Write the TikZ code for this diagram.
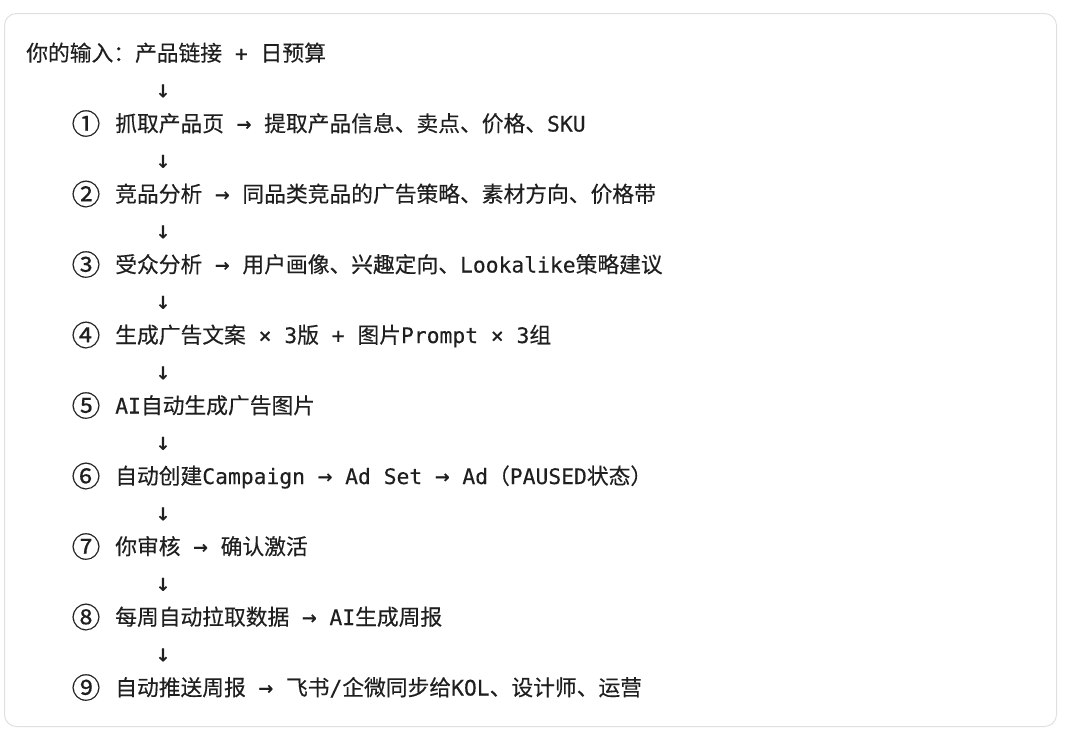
\documentclass[tikz,border=0pt]{standalone}
\usepackage{fontspec}
\newfontfamily\monofont[FakeBold=0.3]{DejaVu Sans Mono}
\newfontfamily\arrfont[FakeBold=0.7]{DejaVu Sans Mono}
\newfontfamily\cjkfont[Scale=1.02,FakeBold=0.3]{Noto Sans CJK SC}
% Chinese characters switch to the CJK family, arrows to a heavier mono
\newXeTeXintercharclass\cjkclass
\newXeTeXintercharclass\arrclass
\newcommand\charrange[3]{%
  \count255=#1
  \loop\XeTeXcharclass\count255=#3
  \ifnum\count255<#2 \advance\count255 by 1 \repeat}
\charrange{"2460}{"24FF}\cjkclass
\charrange{"3000}{"303F}\cjkclass
\charrange{"4E00}{"9FFF}\cjkclass
\charrange{"FF00}{"FFEF}\cjkclass
\charrange{"2190}{"21FF}\arrclass
\XeTeXinterchartoks 0 \cjkclass = {\cjkfont}
\XeTeXinterchartoks 4095 \cjkclass = {\cjkfont}
\XeTeXinterchartoks \cjkclass 0 = {\monofont}
\XeTeXinterchartoks \cjkclass 4095 = {\monofont}
\XeTeXinterchartoks 4095 \arrclass = {\arrfont\fontsize{18pt}{20pt}\selectfont}
\XeTeXinterchartoks \arrclass 4095 = {\monofont\fontsize{16pt}{20pt}\selectfont}
\XeTeXinterchartokenstate=1

\begin{document}
\begin{tikzpicture}[x=0.75pt, y=-0.75pt,
  txt/.style={anchor=base west, inner sep=0pt, text=black!88,
    font=\monofont\fontsize{16pt}{20pt}\selectfont},
  mid/.style={txt, anchor=base},
  circ/.style={txt, anchor=center, font=\cjkfont\fontsize{21pt}{21pt}\selectfont}]
\useasboundingbox (0,0) rectangle (1080,744);
\draw[black!12, line width=0.75pt, rounded corners=9pt] (4.5,13.5) rectangle (1056.5,726.5);
\node[txt] (input) at (26,61) {你的输入：产品链接 + 日预算};
\foreach \nm/\txt [count=\i] in {
  ①/{抓取产品页 → 提取产品信息、卖点、价格、SKU},
  ②/{竞品分析 → 同品类竞品的广告策略、素材方向、价格带},
  ③/{受众分析 → 用户画像、兴趣定向、Lookalike策略建议},
  ④/{生成广告文案 × 3版 + 图片Prompt × 3组},
  ⑤/{AI自动生成广告图片},
  ⑥/{自动创建Campaign → Ad Set → Ad（PAUSED状态）},
  ⑦/{你审核 → 确认激活},
  ⑧/{每周自动拉取数据 → AI生成周报},
  ⑨/{自动推送周报 → 飞书/企微同步给KOL、设计师、运营}} {
  \node[mid] (arr\i) at (163,{62+70.5*\i-35.25}) {↓};
  \node[circ] (num\i) at (86,{53+70.5*\i}) {\nm};
  \node[txt] (step\i) at (115,{61+70.5*\i}) {\txt};
}
\end{tikzpicture}
\end{document}
